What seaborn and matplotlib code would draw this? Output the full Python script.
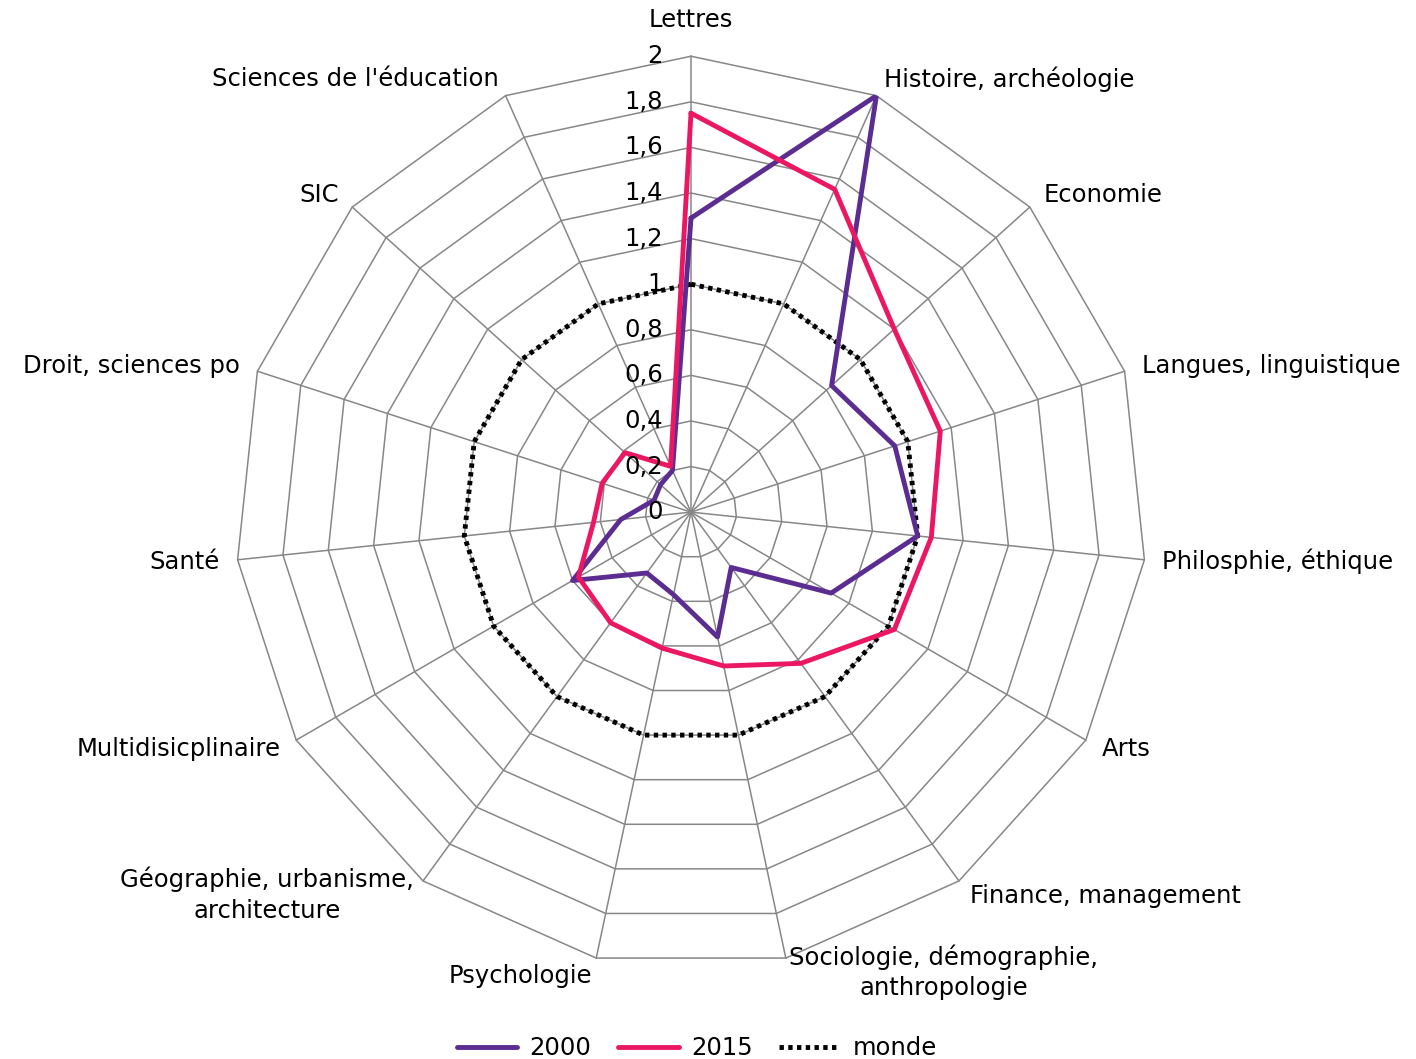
import numpy as np
import pandas as pd
import matplotlib.pyplot as plt
import seaborn as sns
from matplotlib.lines import Line2D

sns.set_style("white")
plt.rcParams['font.family'] = ['DejaVu Sans']
plt.rcParams['text.color'] = 'black'

# Données
categories = ["Lettres", "Histoire, archéologie", "Economie", "Langues, linguistique",
              "Philosphie, éthique", "Arts", "Finance, management",
              "Sociologie, démographie,\nanthropologie", "Psychologie",
              "Géographie, urbanisme,\narchitecture", "Multidisicplinaire", "Santé",
              "Droit, sciences po", "SIC", "Sciences de l'éducation"]
vals_2000 = [1.29, 2.0, 0.83, 0.94, 1.0, 0.71, 0.30, 0.56, 0.37, 0.33, 0.60, 0.31, 0.17, 0.18, 0.20]
vals_2015 = [1.75, 1.55, 1.20, 1.15, 1.06, 1.03, 0.82, 0.69, 0.61, 0.60, 0.57, 0.43, 0.41, 0.39, 0.22]
vals_monde = [1.0] * 15
ring_levels = [0.2, 0.4, 0.6, 0.8, 1.0, 1.2, 1.4, 1.6, 1.8, 2.0]
ring_labels = ["0", "0,2", "0,4", "0,6", "0,8", "1", "1,2", "1,4", "1,6", "1,8", "2"]

col_2000 = '#5B2D91'
col_2015 = '#EC1763'
grid_col = '#878787'
fs = 17.5

n = len(categories)
theta = np.arange(n) * 2 * np.pi / n
theta_c = np.append(theta, theta[0])

fig = plt.figure(figsize=(14.16, 10.59), dpi=100)
ax = fig.add_axes([0.166, 0.0859, 0.644, 0.861], projection='polar')
ax.set_theta_zero_location('N')
ax.set_theta_direction(-1)
ax.set_ylim(0, 2)
ax.grid(False)
ax.spines['polar'].set_visible(False)
ax.set_xticks([])
ax.set_yticks([])

# grille polygonale
for lv in ring_levels:
    ax.plot(theta_c, [lv] * (n + 1), color=grid_col, lw=1.1, clip_on=False, zorder=1)
for t in theta:
    ax.plot([t, t], [0, 2], color=grid_col, lw=1.1, clip_on=False, zorder=1)

# séries
def draw(vals, color, ls):
    df = pd.DataFrame({'theta': theta_c, 'r': vals + [vals[0]]})
    sns.lineplot(data=df, x='theta', y='r', sort=False, ax=ax, color=color,
                 lw=3.5, linestyle=ls, estimator=None, zorder=3)

draw(vals_monde, 'black', (0, (0.9, 0.9)))
draw(vals_2000, col_2000, '-')
draw(vals_2015, col_2015, '-')
ax.set_xlabel('')
ax.set_ylabel('')

# étiquettes radiales
for lv, txt in zip([0.0] + ring_levels, ring_labels):
    ax.annotate(txt, xy=(0, lv), xytext=(-28, 0), textcoords='offset pixels',
                ha='right', va='center', fontsize=fs, color='black', zorder=4)

# étiquettes des catégories
for t, lab in zip(theta, categories):
    s, c = np.sin(t), np.cos(t)
    if abs(s) < 0.05:
        ha, va, off = 'center', 'center', (0, 36)
    else:
        ha = 'left' if s > 0 else 'right'
        if '\n' in lab:
            va, off = 'top', (16 * s, 14)
        else:
            va, off = 'center', (18 * s, 18 * c)
    ax.annotate(lab, xy=(t, 2.0), xytext=off, textcoords='offset pixels',
                ha=ha, va=va, fontsize=fs, multialignment='center',
                linespacing=1.35, annotation_clip=False)

handles = [Line2D([], [], color=col_2000, lw=3.5),
           Line2D([], [], color=col_2015, lw=3.5),
           Line2D([], [], color='black', lw=3.5, linestyle=(0, (0.9, 0.9)))]
fig.legend(handles, ['2000', '2015', 'monde'], loc='lower center',
           bbox_to_anchor=(0.492, -0.022), ncol=3, frameon=False, fontsize=fs,
           handlelength=2.5, handletextpad=0.5, columnspacing=1.1)

fig.savefig('out.png', dpi=100)
